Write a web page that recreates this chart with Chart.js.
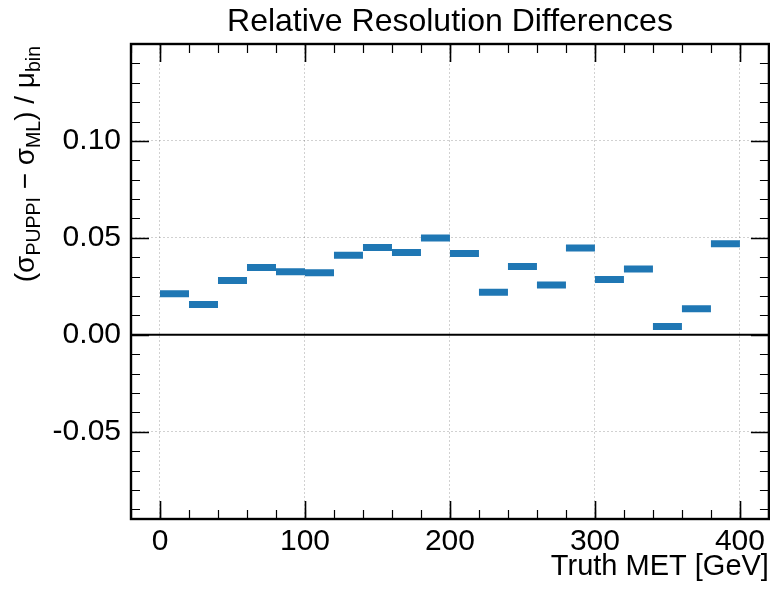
<!DOCTYPE html>
<html>
<head>
<meta charset="utf-8">
<title>Relative Resolution Differences</title>
<script src="https://cdn.jsdelivr.net/npm/chart.js@4.4.1/dist/chart.umd.min.js"></script>
<style>
  html, body { margin: 0; padding: 0; background: #fff; }
  #wrap { width: 770px; height: 591px; }
</style>
</head>
<body>
<div id="wrap"><canvas id="chart" width="770" height="591"></canvas></div>
<script>
// Truth MET bins (GeV), 20 GeV wide
const binLow  = [0, 20, 40, 60, 80, 100, 120, 140, 160, 180, 200, 220, 240, 260, 280, 300, 320, 340, 360, 380];
const binHigh = [20, 40, 60, 80, 100, 120, 140, 160, 180, 200, 220, 240, 260, 280, 300, 320, 340, 360, 380, 400];
// (sigma_PUPPI - sigma_ML) / mu_bin per bin
const relDiff = [0.0212, 0.0156, 0.0280, 0.0347, 0.0325, 0.0320, 0.0410, 0.0450, 0.0425, 0.0500,
                 0.0420, 0.0219, 0.0352, 0.0257, 0.0448, 0.0285, 0.0340, 0.0043, 0.0134, 0.0470];

const xTicks = [0, 100, 200, 300, 400];
const xTickLabels = ['0', '100', '200', '300', '400'];
const yTicks = [-0.05, 0, 0.05, 0.10];
const yTickLabels = ['-0.05', '0.00', '0.05', '0.10'];

const xMin = -20, xMax = 420, xMinorStep = 20;
const yMin = -0.095, yMax = 0.15, yMinorStep = 0.01;

const FONT = "'Liberation Sans', Arial, Helvetica, sans-serif";
Chart.defaults.font.family = FONT;
Chart.defaults.color = '#000';

// one flat segment per bin, separated by gaps
const points = [];
binLow.forEach((lo, i) => {
  points.push({ x: lo, y: relDiff[i] });
  points.push({ x: binHigh[i], y: relDiff[i] });
  points.push({ x: binHigh[i], y: null });
});

// frame, inward ticks, zero line, title and y label
const decorPlugin = {
  id: 'decor',
  afterDatasetsDraw(chart) {
    const { ctx, chartArea: a, scales: { y } } = chart;
    ctx.save();
    // horizontal line at 0
    ctx.strokeStyle = '#000';
    ctx.lineWidth = 2;
    ctx.beginPath();
    ctx.moveTo(a.left, y.getPixelForValue(0));
    ctx.lineTo(a.right, y.getPixelForValue(0));
    ctx.stroke();
    ctx.restore();
  },
  afterDraw(chart) {
    const { ctx, chartArea: a, scales: { x, y } } = chart;
    ctx.save();
    ctx.strokeStyle = '#000';

    // minor ticks
    ctx.lineWidth = 1.2;
    ctx.beginPath();
    for (let v = xMin; v <= xMax + 1e-9; v += xMinorStep) {
      const px = Math.round(x.getPixelForValue(v)) + 0.5;
      ctx.moveTo(px, a.bottom); ctx.lineTo(px, a.bottom - 9);
      ctx.moveTo(px, a.top); ctx.lineTo(px, a.top + 9);
    }
    for (let k = Math.ceil(yMin / yMinorStep); k * yMinorStep <= yMax + 1e-9; k++) {
      const py = Math.round(y.getPixelForValue(k * yMinorStep)) + 0.5;
      ctx.moveTo(a.left, py); ctx.lineTo(a.left + 9, py);
      ctx.moveTo(a.right, py); ctx.lineTo(a.right - 9, py);
    }
    ctx.stroke();

    // major ticks
    ctx.lineWidth = 1.6;
    ctx.beginPath();
    xTicks.forEach(v => {
      const px = Math.round(x.getPixelForValue(v)) + 0.5;
      ctx.moveTo(px, a.bottom); ctx.lineTo(px, a.bottom - 18);
      ctx.moveTo(px, a.top); ctx.lineTo(px, a.top + 18);
    });
    yTicks.forEach(v => {
      const py = Math.round(y.getPixelForValue(v)) + 0.5;
      ctx.moveTo(a.left, py); ctx.lineTo(a.left + 18, py);
      ctx.moveTo(a.right, py); ctx.lineTo(a.right - 18, py);
    });
    ctx.stroke();

    // frame
    ctx.lineWidth = 2.4;
    ctx.strokeRect(a.left, a.top, a.right - a.left, a.bottom - a.top);

    // title
    ctx.fillStyle = '#000';
    ctx.font = '32px ' + FONT;
    ctx.textAlign = 'center';
    ctx.textBaseline = 'alphabetic';
    ctx.fillText('Relative Resolution Differences', (a.left + a.right) / 2, 31);

    // y label with subscripts, rotated, top aligned
    const main = 28, sub = 19.5, drop = 6;
    const parts = [
      { t: '(σ', s: false }, { t: 'PUPPI', s: true }, { t: ' − σ', s: false },
      { t: 'ML', s: true }, { t: ') / μ', s: false }, { t: 'bin', s: true }
    ];
    let total = 0;
    parts.forEach(p => {
      ctx.font = (p.s ? sub : main) + 'px ' + FONT;
      p.w = ctx.measureText(p.t).width;
      total += p.w;
    });
    ctx.translate(34, a.top + 2 + total);
    ctx.rotate(-Math.PI / 2);
    ctx.textAlign = 'left';
    let cx = 0;
    parts.forEach(p => {
      ctx.font = (p.s ? sub : main) + 'px ' + FONT;
      ctx.fillText(p.t, cx, p.s ? drop : 0);
      cx += p.w;
    });
    ctx.restore();
  }
};

new Chart(document.getElementById('chart'), {
  type: 'line',
  data: {
    datasets: [{
      data: points,
      borderColor: '#1f77b4',
      borderWidth: 7,
      borderCapStyle: 'butt',
      pointRadius: 0,
      spanGaps: false,
      tension: 0
    }]
  },
  options: {
    responsive: false,
    animation: false,
    layout: { padding: { top: 44, right: 1, left: 0, bottom: 0 } },
    plugins: { legend: { display: false }, tooltip: { enabled: false }, title: { display: false } },
    scales: {
      x: {
        type: 'linear',
        min: xMin,
        max: xMax,
        afterBuildTicks(scale) { scale.ticks = xTicks.map(v => ({ value: v })); },
        afterFit(scale) { scale.height = 72; },
        grid: { color: 'rgba(0,0,0,0.18)', lineWidth: 1, drawTicks: false },
        border: { display: false, dash: [2, 2] },
        ticks: {
          font: { size: 30 },
          padding: 5,
          maxRotation: 0,
          callback: (v, i) => xTickLabels[i]
        },
        title: {
          display: true,
          text: 'Truth MET [GeV]',
          align: 'end',
          font: { size: 29 },
          padding: { top: 0, bottom: 7 }
        }
      },
      y: {
        type: 'linear',
        min: yMin,
        max: yMax,
        afterBuildTicks(scale) { scale.ticks = yTicks.map(v => ({ value: v })); },
        afterFit(scale) { scale.width = 131; },
        grid: { color: 'rgba(0,0,0,0.18)', lineWidth: 1, drawTicks: false },
        border: { display: false, dash: [2, 2] },
        ticks: {
          font: { size: 30 },
          padding: 10,
          callback: (v, i) => yTickLabels[i]
        }
      }
    }
  },
  plugins: [decorPlugin]
});
</script>
</body>
</html>
